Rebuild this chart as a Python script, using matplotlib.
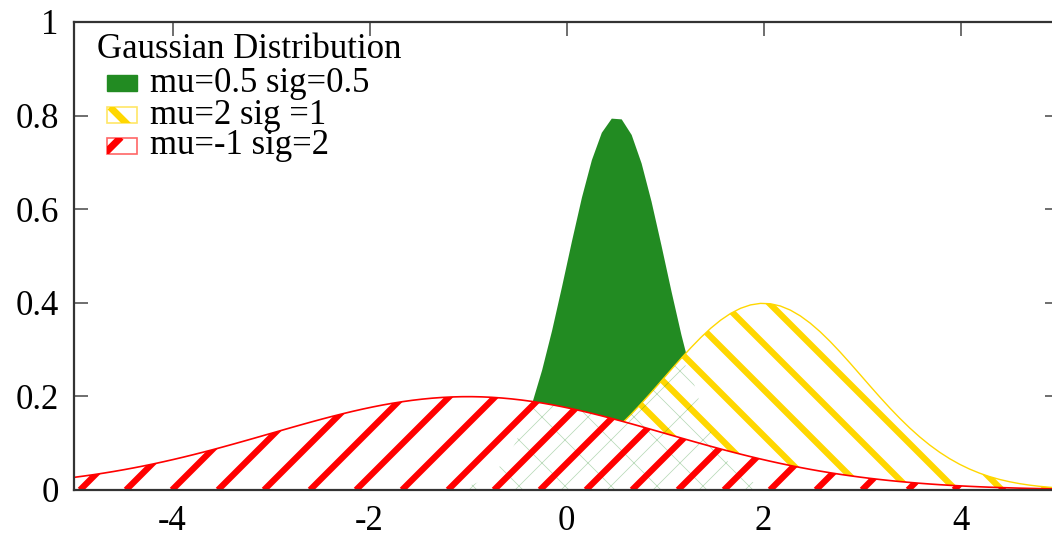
#!/usr/bin/env python3

import numpy as np
import matplotlib
matplotlib.use("Agg")
import matplotlib.pyplot as plt
from matplotlib.collections import LineCollection
from matplotlib.patches import Rectangle

# curve parameters
mus = [0.5, 2, -1]
sigmas = [0.5, 1, 2]
labels = ["mu=0.5 sig=0.5", "mu=2 sig =1", "mu=-1 sig=2"]
colors = ["#228b22", "#ffd700", "#ff0000"]
legend_title = "Gaussian Distribution"

x_ticks = [-4, -2, 0, 2, 4]
y_ticks = [0, 0.2, 0.4, 0.6, 0.8, 1]
y_tick_labels = ["0", "0.2", "0.4", "0.6", "0.8", "1"]

W_PX, H_PX = 1052, 538

plt.rcParams['font.family'] = ['Liberation Serif', 'DejaVu Serif']


def gauss(x, mu, sig):
    return np.exp(-0.5 * ((x - mu) / sig) ** 2) / (sig * np.sqrt(2 * np.pi))


def stripes(ax, clip, slope, color, lw, spacing, phase, zorder, alpha=1.0):
    # 45 degree lines in pixel space, drawn in axes fraction, clipped to a fill
    pos = ax.get_position()
    w = pos.width * W_PX
    h = pos.height * H_PX
    k = h / w
    du = spacing / w
    segs = []
    u = phase - du * np.ceil((phase + k + 0.1) / du)
    while u < 1 + k:
        if slope == '/':
            segs.append([(u, 0), (u + k, 1)])
        else:
            segs.append([(u + k, 0), (u, 1)])
        u += du
    lc = LineCollection(segs, colors=color, linewidths=lw, alpha=alpha,
                        transform=ax.transAxes, zorder=zorder, capstyle='butt')
    ax.add_collection(lc, autolim=False)
    lc.set_clip_path(clip.get_paths()[0], ax.transData)


fig = plt.figure(figsize=(W_PX / 100, H_PX / 100), dpi=100)
ax = fig.add_axes([74 / W_PX, (H_PX - 490) / H_PX, 985 / W_PX, 468 / H_PX])

x = np.linspace(-5, 5, 100)
g = gauss(x, mus[0], sigmas[0])
yel = gauss(x, mus[1], sigmas[1])
red = gauss(x, mus[2], sigmas[2])

# green: solid
ax.fill_between(x, 0, g, color=colors[0], lw=0, zorder=1)

# yellow: white background + stripes
fy = ax.fill_between(x, 0, yel, facecolor='white', lw=0, zorder=2)
stripes(ax, fy, '\\', colors[1], 4.5, 46, (948 - 74) / 985, 2.1)
ax.plot(x, yel, color=colors[1], lw=1.0, zorder=2.2)

# red: white background + stripes
fr = ax.fill_between(x, 0, red, facecolor='white', lw=0, zorder=3)
stripes(ax, fr, '/', colors[2], 4.5, 46, (80 - 74) / 985, 3.2)
ax.plot(x, red, color=colors[2], lw=1.2, zorder=3.3)

# faint green cross pattern where the green curve hides under the others
under = np.minimum(g, np.maximum(red, yel))
fg = ax.fill_between(x, 0, under, facecolor='none', lw=0, zorder=3.05)
stripes(ax, fg, '/', colors[0], 0.5, 46, (607 - 74) / 985, 3.1, alpha=0.35)
stripes(ax, fg, '\\', colors[0], 0.5, 46, (607 - 74) / 985, 3.1, alpha=0.35)

ax.set_xlim(-5, 5)
ax.set_ylim(0, 1)
ax.set_xticks(x_ticks)
ax.set_xticklabels([str(t) for t in x_ticks])
ax.set_yticks(y_ticks)
ax.set_yticklabels(y_tick_labels)
ax.tick_params(direction='in', length=10, width=1.2, color='#555555',
               top=True, right=True, labelsize=25)
ax.tick_params(axis='x', pad=11)
ax.tick_params(axis='y', pad=11)
for sp in ax.spines.values():
    sp.set_color('#333333')
    sp.set_linewidth(1.6)
    sp.set_zorder(5)


# legend, laid out in pixel positions
def fx(px):
    return px / W_PX


def fy_(py):
    return 1 - py / H_PX


fig.text(fx(97), fy_(50), legend_title, fontsize=25, va='center', ha='left')
rows = [83, 115, 146]
slopes = [None, '\\', '/']
for lab, col, row, sl in zip(labels, colors, rows, slopes):
    x0, y0, sw, sh = fx(107), fy_(row + 8), fx(137) - fx(107), fy_(row - 8) - fy_(row + 8)
    if sl is None:
        r = Rectangle((x0, y0), sw, sh, facecolor=col, edgecolor=col, lw=1,
                      transform=fig.transFigure)
        fig.add_artist(r)
    else:
        r = Rectangle((x0, y0), sw, sh, facecolor='white', edgecolor=col, lw=1.2,
                      alpha=0.6, transform=fig.transFigure)
        fig.add_artist(r)
        clip = Rectangle((x0, y0), sw, sh, transform=fig.transFigure)
        if sl == '\\':
            seg = [(x0 + sw * 0.1, y0 + sh), (x0 + sw * 0.1 + fx(20), y0 + sh - fx(20) * W_PX / H_PX)]
        else:
            seg = [(x0 - sw * 0.2, y0 - sh * 0.2), (x0 - sw * 0.2 + fx(20), y0 - sh * 0.2 + fx(20) * W_PX / H_PX)]
        lc = LineCollection([seg], colors=col, linewidths=5, transform=fig.transFigure)
        lc.set_clip_path(clip)
        fig.add_artist(lc)
    fig.text(fx(150), fy_(row), lab, fontsize=25, va='center', ha='left')

fig.savefig("out.png", dpi=100)
